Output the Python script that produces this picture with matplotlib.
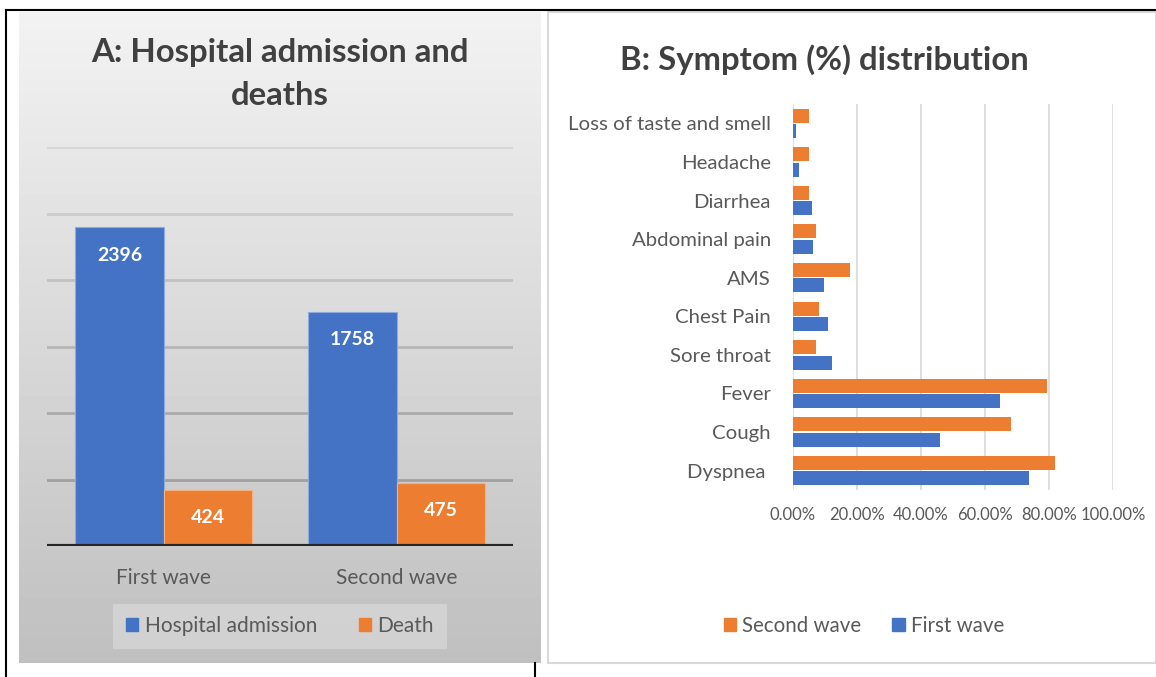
import numpy as np
import matplotlib
matplotlib.use("Agg")
import matplotlib.pyplot as plt
from matplotlib.lines import Line2D
from matplotlib.patches import Rectangle, Patch
from matplotlib.ticker import FuncFormatter

# Panel A data
waves = ["First wave", "Second wave"]
admissions = [2396, 1758]
deaths = [424, 475]

# Panel B data (fractions), listed bottom to top
symptoms = ["Dyspnea ", "Cough", "Fever", "Sore throat", "Chest Pain", "AMS",
            "Abdominal pain", "Diarrhea", "Headache", "Loss of taste and smell"]
first_wave = [0.736, 0.458, 0.647, 0.123, 0.109, 0.096, 0.063, 0.059, 0.018, 0.009]
second_wave = [0.820, 0.680, 0.793, 0.071, 0.082, 0.177, 0.071, 0.049, 0.050, 0.050]

BLUE = "#4472C4"
ORANGE = "#ED7D31"
TXT = "#595959"

plt.rcParams['font.family'] = ['Lato', 'DejaVu Sans']

W, H = 1156, 677
fig = plt.figure(figsize=(W / 100, H / 100), dpi=100)


def fx(x):
    return x / W


def fy(y):
    return 1 - y / H


# frame lines
fig.add_artist(Line2D([fx(6), 1], [fy(10), fy(10)], color="black", lw=1.5))
fig.add_artist(Line2D([fx(6), fx(6)], [fy(10), 0], color="black", lw=1.5))
fig.add_artist(Line2D([fx(535), fx(535)], [fy(663), 0], color="black", lw=1.5))

# left panel gradient background
bg = fig.add_axes([fx(19), fy(663), fx(541) - fx(19), fy(12) - fy(663)], zorder=-5)
grad = np.linspace(0.95, 0.75, 200).reshape(-1, 1)
bg.imshow(grad, aspect="auto", cmap="gray", vmin=0, vmax=1, extent=[0, 1, 0, 1], origin="upper")
bg.axis("off")

# right panel box
fig.add_artist(Rectangle((fx(548), fy(663)), fx(1156) - fx(548), fy(12) - fy(663),
                         transform=fig.transFigure, facecolor="white",
                         edgecolor="#d9d9d9", lw=1.5, zorder=-5))

# ---- Panel A ----
axA = fig.add_axes([fx(47), fy(546), fx(513) - fx(47), fy(147) - fy(546)])
axA.set_facecolor("none")
x = np.arange(len(waves))
bw = 0.378
bA = axA.bar(x - bw / 2, admissions, bw, color=BLUE, edgecolor="#8FAADC", lw=0.8,
             label="Hospital admission", zorder=3)
bD = axA.bar(x + bw / 2, deaths, bw, color=ORANGE, edgecolor="#F4B183", lw=0.8,
             label="Death", zorder=3)
for bars in (bA, bD):
    for b in bars:
        axA.annotate(str(int(b.get_height())), (b.get_x() + b.get_width() / 2, b.get_height()),
                     xytext=(0, -20), textcoords="offset points", ha="center", va="center",
                     color="white", fontsize=14, fontweight="bold", zorder=4)
axA.set_xlim(-0.5, 1.5)
axA.set_ylim(0, 3000)
axA.set_yticks(np.arange(500, 3001, 500))
axA.set_yticklabels([])
axA.tick_params(axis="y", length=0)
for v in np.arange(500, 3001, 500):
    t = (v - 500) / 2500
    c = 0.63 + 0.21 * t
    axA.axhline(v, color=(c, c, c), lw=2, zorder=1)
axA.axhline(0, color="#262626", lw=3, zorder=5)
for s in axA.spines.values():
    s.set_visible(False)
axA.set_xticks(x)
axA.set_xticklabels(waves, fontsize=15, color=TXT)
axA.tick_params(axis="x", length=0, pad=16)

fig.text(fx(280), fy(74), "A: Hospital admission and\ndeaths", ha="center", va="center",
         fontsize=23.7, fontweight="bold", color="#404040", linespacing=1.55)

legA = fig.legend(handles=[Patch(color=BLUE, label="Hospital admission"),
                           Patch(color=ORANGE, label="Death")],
                  loc="center", bbox_to_anchor=(fx(280), fy(626)), ncol=2, fontsize=15,
                  frameon=True, fancybox=False, handlelength=0.6, handleheight=0.6,
                  handletextpad=0.3, columnspacing=2.0, borderpad=0.6)
legA.get_frame().set_facecolor("#d6d6d6")
legA.get_frame().set_edgecolor("none")
for t in legA.get_texts():
    t.set_color(TXT)

# ---- Panel B ----
axB = fig.add_axes([fx(793), fy(490), fx(1113) - fx(793), fy(104) - fy(490)])
y = np.arange(len(symptoms))
bh = 0.36
axB.barh(y + 0.2, second_wave, bh, color=ORANGE, label="Second wave", zorder=3)
axB.barh(y - 0.2, first_wave, bh, color=BLUE, label="First wave", zorder=3)
axB.set_xlim(0, 1)
axB.set_ylim(-0.5, 9.5)
axB.set_xticks(np.arange(0, 1.01, 0.2))
axB.xaxis.set_major_formatter(FuncFormatter(lambda v, p: f"{v * 100:.2f}%"))
axB.grid(axis="x", color="#d9d9d9", lw=1.2, zorder=0)
axB.set_yticks(y)
axB.set_yticklabels(symptoms, fontsize=14.7, color=TXT)
axB.tick_params(axis="y", length=0, pad=16)
axB.tick_params(axis="x", length=0, pad=12, labelsize=12, labelcolor=TXT)
for s in axB.spines.values():
    s.set_visible(False)

fig.text(fx(824), fy(60), "B: Symptom (%) distribution", ha="center", va="center",
         fontsize=23.7, fontweight="bold", color="#404040")

legB = fig.legend(handles=[Patch(color=ORANGE, label="Second wave"),
                           Patch(color=BLUE, label="First wave")],
                  loc="center", bbox_to_anchor=(fx(864), fy(626)), ncol=2, fontsize=14.8,
                  frameon=False, handlelength=0.6, handleheight=0.6,
                  handletextpad=0.3, columnspacing=1.5)
for t in legB.get_texts():
    t.set_color(TXT)

fig.savefig("out.png", dpi=100)
